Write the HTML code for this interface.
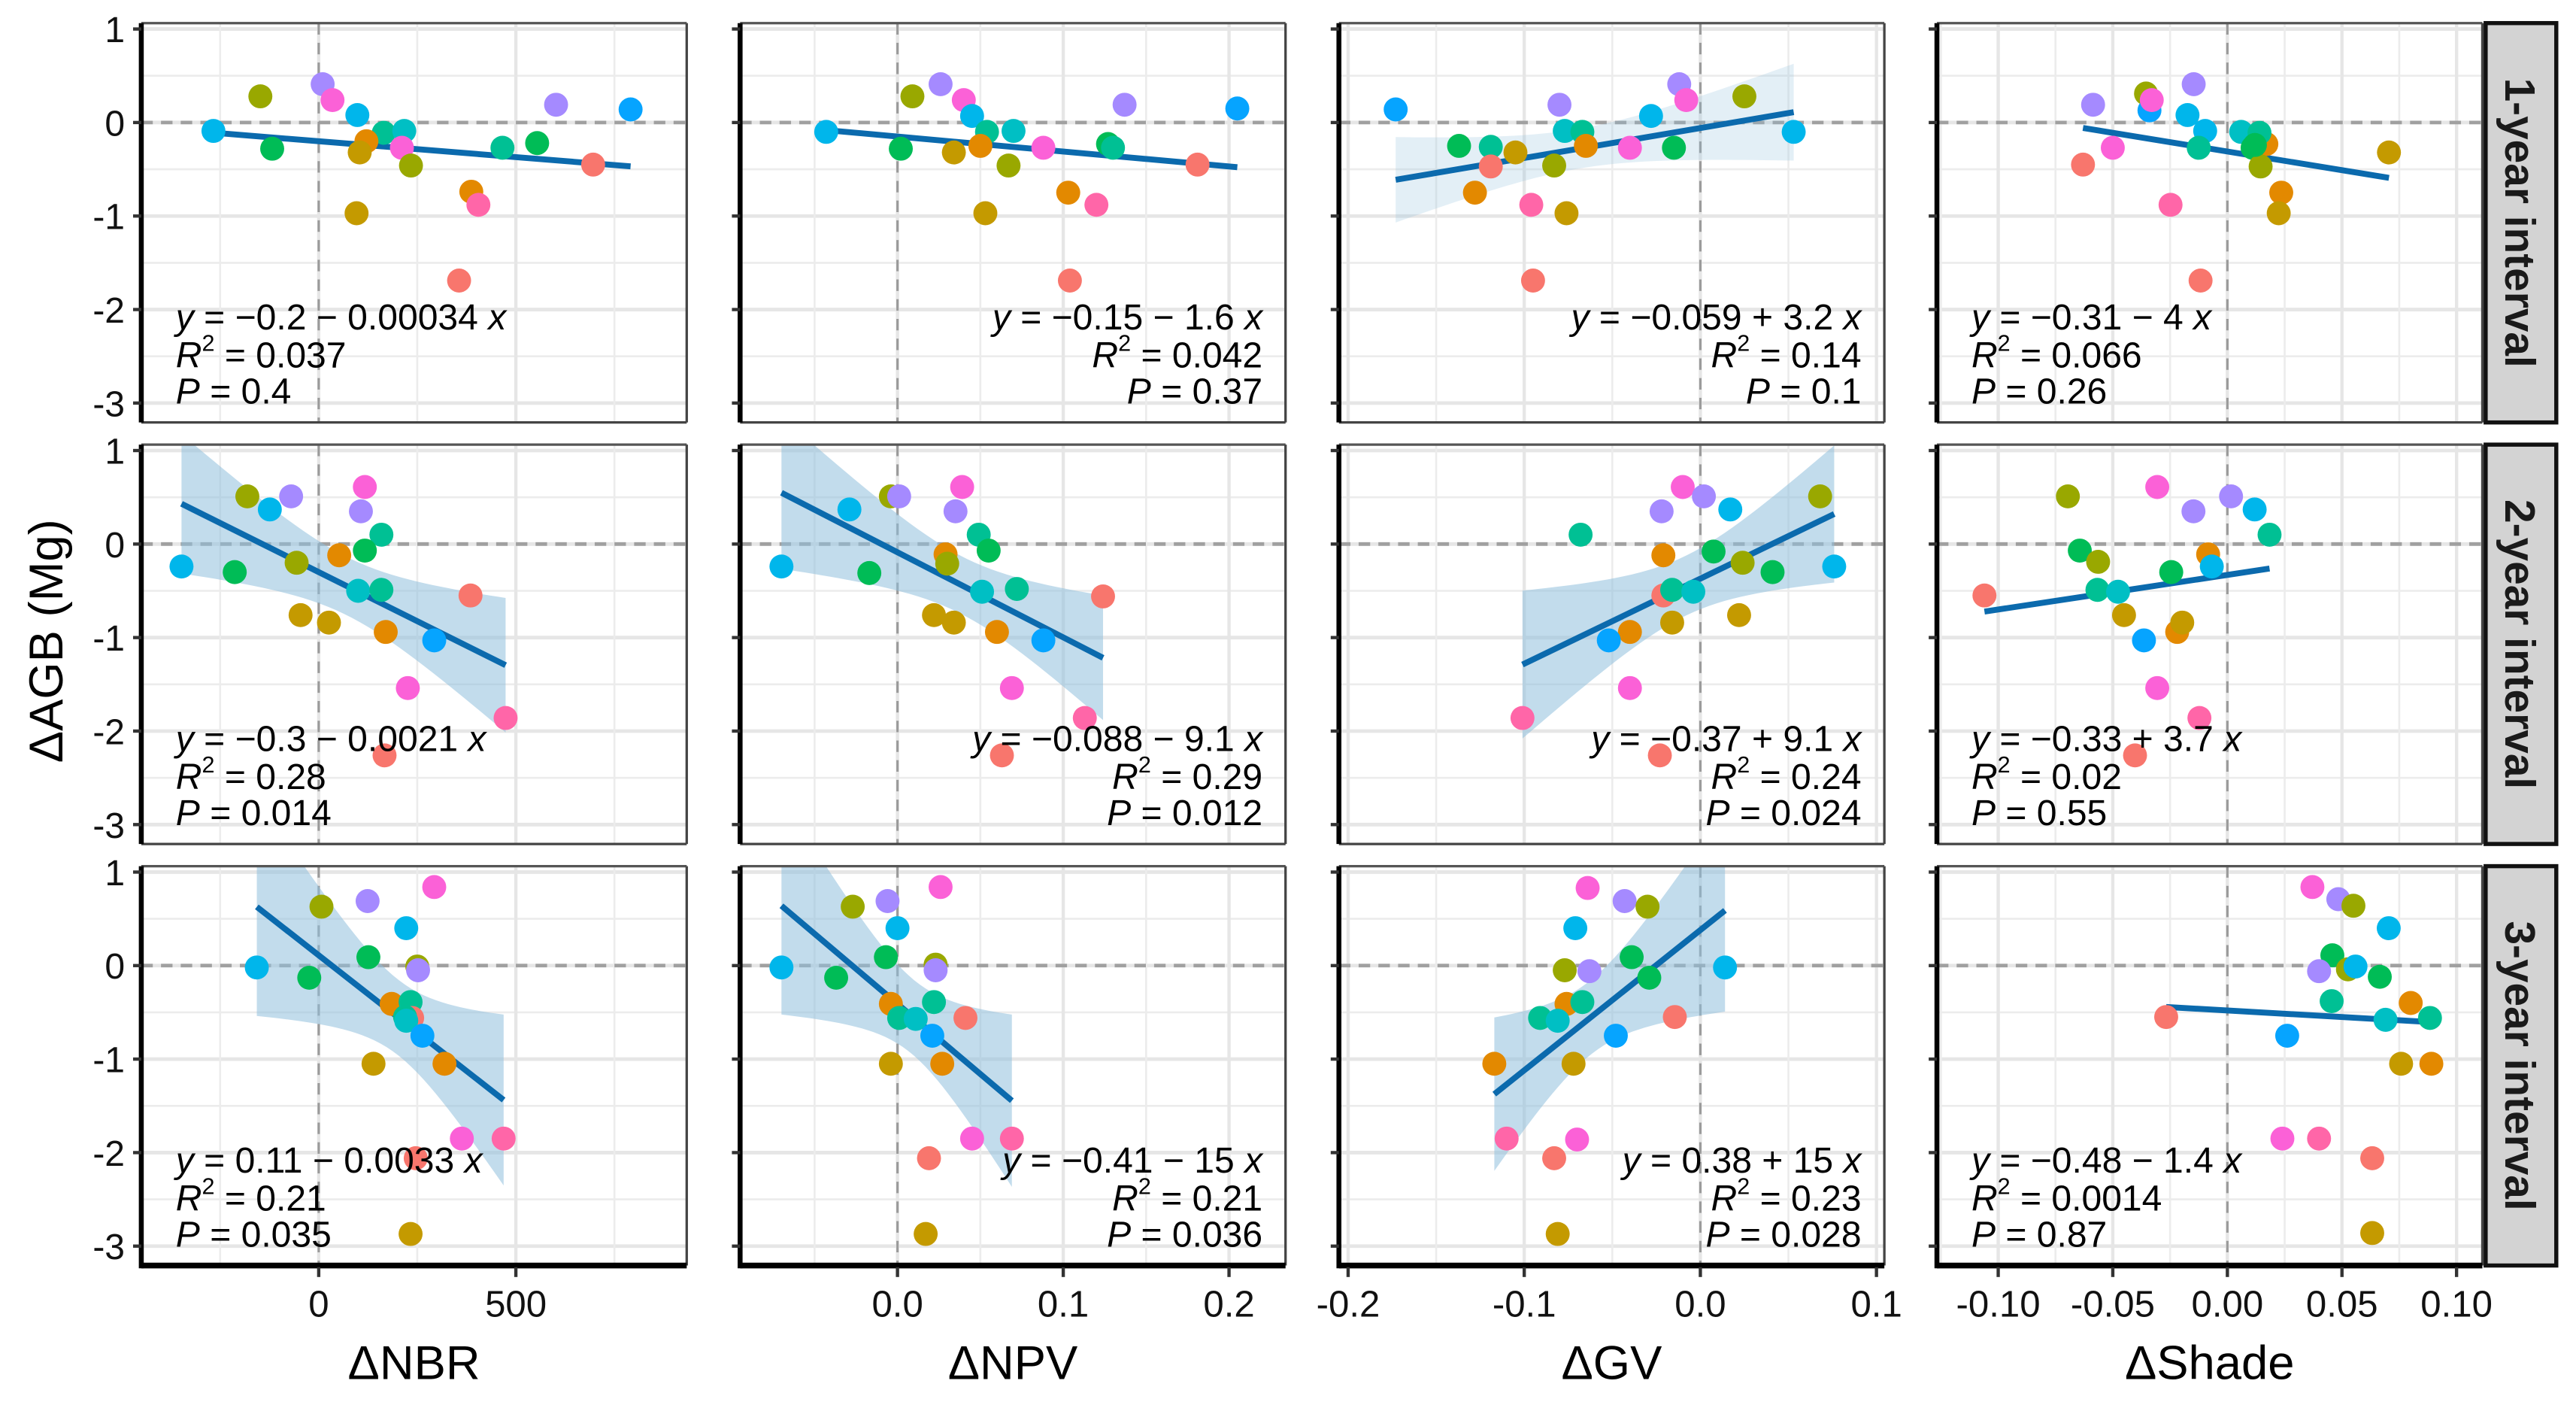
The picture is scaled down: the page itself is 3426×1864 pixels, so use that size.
<!DOCTYPE html>
<html><head><meta charset="utf-8"><style>
html,body{margin:0;padding:0;background:#fff;}
svg{display:block;font-family:"Liberation Sans",Arial,sans-serif;}
</style></head><body>
<svg id="chart" xmlns="http://www.w3.org/2000/svg" width="3426" height="1864" viewBox="0 0 1568 853">
<rect x="0" y="0" width="1568" height="853" fill="#fff"/>
</svg>
<script>
// ---- data (x in predictor units, y in ΔAGB Mg, c = colour group index) ----
const p1x=[-267,-148,-118,10,35,98,165,217,121,104,211,234,387,405,96,356,466,554,696,602,791];
const p1y=[-0.09,0.28,-0.28,0.41,0.24,0.08,-0.11,-0.09,-0.2,-0.32,-0.27,-0.46,-0.74,-0.88,-0.97,-1.69,-0.27,-0.22,-0.45,0.19,0.14];
const p1c=[8,3,5,10,12,8,6,7,1,2,12,3,1,13,2,0,6,5,0,10,9];
const p2x=[-0.043,0.009,0.026,0.040,0.045,0.054,0.070,0.002,0.034,0.050,0.088,0.067,0.127,0.130,0.137,0.205,0.181,0.103,0.120,0.053,0.104];
const p2y=[-0.10,0.28,0.41,0.24,0.07,-0.10,-0.09,-0.28,-0.32,-0.25,-0.27,-0.46,-0.23,-0.27,0.19,0.15,-0.45,-0.75,-0.88,-0.97,-1.69];
const p2c=[8,3,10,12,8,6,7,5,2,1,12,3,5,6,10,9,0,1,13,2,0];
const p3x=[-0.173,-0.080,-0.012,-0.008,0.025,-0.028,0.053,-0.077,-0.067,-0.065,-0.040,-0.015,-0.137,-0.119,-0.105,-0.119,-0.083,-0.128,-0.096,-0.076,-0.095];
const p3y=[0.14,0.19,0.41,0.24,0.28,0.07,-0.10,-0.09,-0.10,-0.25,-0.27,-0.27,-0.25,-0.26,-0.32,-0.47,-0.46,-0.75,-0.88,-0.97,-1.69];
const p3c=[9,10,10,12,3,8,8,7,6,1,12,5,5,6,2,0,3,1,13,2,0];
const p4x=[-0.0586,-0.0355,-0.034,-0.033,-0.0147,-0.0174,-0.0097,-0.0125,-0.050,-0.063,0.006,0.017,0.014,0.011,0.0145,0.0705,0.0235,0.0224,-0.0248,-0.0117,0.012];
const p4y=[0.19,0.31,0.13,0.24,0.41,0.08,-0.09,-0.27,-0.27,-0.45,-0.10,-0.23,-0.11,-0.27,-0.47,-0.32,-0.75,-0.97,-0.88,-1.69,-0.24];
const p4c=[10,3,9,12,10,8,8,6,12,0,7,1,6,5,3,2,1,2,13,0,5];
const p5x=[-348,-181,-124,-70,117,107,159,117,52,-56,-213,100,159,385,-46,26,170,293,226,474,167];
const p5y=[-0.24,0.51,0.37,0.51,0.61,0.35,0.10,-0.07,-0.12,-0.20,-0.30,-0.50,-0.49,-0.55,-0.76,-0.84,-0.94,-1.03,-1.54,-1.86,-2.26];
const p5c=[8,3,8,10,12,10,6,5,1,3,5,7,6,0,2,2,1,9,12,13,0];
const p6x=[-0.070,-0.029,-0.004,0.001,0.039,0.035,0.049,0.055,0.029,0.030,-0.017,0.051,0.072,0.124,0.022,0.034,0.060,0.088,0.069,0.113,0.063];
const p6y=[-0.24,0.37,0.51,0.51,0.61,0.35,0.10,-0.07,-0.11,-0.21,-0.31,-0.51,-0.48,-0.56,-0.76,-0.84,-0.94,-1.03,-1.54,-1.86,-2.26];
const p6c=[8,8,3,10,12,10,6,5,1,3,5,7,6,0,2,2,1,9,12,13,0];
const p7x=[-0.010,0.002,0.017,-0.022,0.068,-0.068,0.0075,-0.021,0.024,0.041,0.076,-0.021,-0.016,-0.004,-0.016,0.022,-0.040,-0.052,-0.040,-0.101,-0.023];
const p7y=[0.61,0.51,0.37,0.35,0.51,0.10,-0.08,-0.12,-0.20,-0.30,-0.24,-0.55,-0.49,-0.51,-0.84,-0.76,-0.94,-1.03,-1.54,-1.86,-2.26];
const p7c=[12,10,8,10,3,6,5,1,3,5,8,0,6,7,2,2,1,9,12,13,0];
const p8x=[-0.0696,-0.0306,0.0016,-0.0148,0.0119,0.0184,-0.0644,-0.0564,-0.0084,-0.0068,-0.0245,-0.106,-0.0567,-0.0477,-0.0451,-0.0219,-0.0197,-0.0364,-0.0306,-0.0122,-0.0403];
const p8y=[0.51,0.61,0.51,0.35,0.37,0.10,-0.07,-0.19,-0.11,-0.24,-0.30,-0.55,-0.49,-0.51,-0.76,-0.94,-0.84,-1.03,-1.54,-1.86,-2.26];
const p8c=[3,12,10,10,8,6,5,3,1,8,5,0,6,7,2,1,2,9,12,13,0];
const p9x=[-157,7,124,293,222,126,-24,250,252,185,233,237,219,222,263,139,319,363,469,246,233];
const p9y=[-0.02,0.63,0.69,0.84,0.40,0.09,-0.13,-0.01,-0.05,-0.41,-0.39,-0.56,-0.55,-0.59,-0.75,-1.05,-1.05,-1.85,-1.85,-2.06,-2.87];
const p9c=[8,3,10,12,8,5,5,3,10,1,6,0,6,7,9,2,1,12,13,0,2];
const p10x=[-0.070,-0.027,-0.006,0.026,0.000,-0.007,-0.037,0.023,0.023,-0.004,0.022,0.001,0.011,0.041,0.021,-0.004,0.027,0.045,0.069,0.019,0.017];
const p10y=[-0.02,0.63,0.69,0.84,0.40,0.09,-0.13,0.01,-0.05,-0.41,-0.39,-0.56,-0.57,-0.56,-0.75,-1.05,-1.05,-1.85,-1.85,-2.06,-2.87];
const p10c=[8,3,10,12,8,5,5,3,10,1,6,6,7,0,9,2,1,12,13,0,2];
const p11x=[-0.064,-0.043,-0.030,-0.071,-0.039,-0.029,-0.077,-0.063,0.014,-0.076,-0.067,-0.091,-0.081,-0.0145,-0.048,-0.117,-0.072,-0.110,-0.070,-0.083,-0.081];
const p11y=[0.83,0.69,0.63,0.40,0.09,-0.13,-0.05,-0.06,-0.02,-0.41,-0.39,-0.56,-0.59,-0.55,-0.75,-1.05,-1.05,-1.85,-1.86,-2.06,-2.87];
const p11c=[12,10,3,8,5,5,3,10,8,1,6,6,7,0,9,1,2,13,12,0,2];
const p12x=[0.0371,0.0484,0.055,0.0704,0.0458,0.0526,0.0559,0.040,0.0665,0.0455,0.080,0.069,0.0884,-0.0267,0.0261,0.0758,0.089,0.024,0.040,0.0632,0.0632];
const p12y=[0.84,0.71,0.64,0.40,0.11,-0.04,-0.01,-0.06,-0.12,-0.38,-0.40,-0.58,-0.56,-0.55,-0.75,-1.05,-1.05,-1.85,-1.85,-2.06,-2.86];
const p12c=[12,10,3,8,5,3,8,10,5,6,1,7,6,0,9,2,1,12,13,0,2];

const intercepts=[-0.2,-0.15,-0.059,-0.31,-0.3,-0.088,-0.37,-0.33,0.11,-0.41,0.38,-0.48];
const slopes=[-0.00034,-1.6,3.2,-4,-0.0021,-9.1,9.1,3.7,-0.0033,-15,15,-1.4];
const eqLabels=["= −0.2 − 0.00034","= −0.15 − 1.6","= −0.059 + 3.2","= −0.31 − 4","= −0.3 − 0.0021","= −0.088 − 9.1","= −0.37 + 9.1","= −0.33 + 3.7","= 0.11 − 0.0033","= −0.41 − 15","= 0.38 + 15","= −0.48 − 1.4"];
const r2Labels=["0.037","0.042","0.14","0.066","0.28","0.29","0.24","0.02","0.21","0.21","0.23","0.0014"];
const pLabels=["0.4","0.37","0.1","0.26","0.014","0.012","0.024","0.55","0.035","0.036","0.028","0.87"];
const bandShown=[0,0,1,0,2,2,2,0,2,2,2,0];
const rowLabels=["1-year interval","2-year interval","3-year interval"];
const xTitles=["ΔNBR","ΔNPV","ΔGV","ΔShade"];
const xTickVals=[[0,500],[0,0.1,0.2],[-0.2,-0.1,0,0.1],[-0.1,-0.05,0,0.05,0.1]];
const xTickLabels=[["0","500"],["0.0","0.1","0.2"],["-0.2","-0.1","0.0","0.1"],["-0.10","-0.05","0.00","0.05","0.10"]];
const xMinorVals=[[-250,250,750],[-0.05,0.05,0.15],[-0.15,-0.05,0.05],[-0.125,-0.075,-0.025,0.025,0.075]];
const yTickVals=[1,0,-1,-2,-3];
const yTickLabels=["1","0","-1","-2","-3"];
const yMinorVals=[0.5,-0.5,-1.5,-2.5];

const PX=[p1x,p2x,p3x,p4x,p5x,p6x,p7x,p8x,p9x,p10x,p11x,p12x];
const PY=[p1y,p2y,p3y,p4y,p5y,p6y,p7y,p8y,p9y,p10y,p11y,p12y];
const PC=[p1c,p2c,p3c,p4c,p5c,p6c,p7c,p8c,p9c,p10c,p11c,p12c];
const COLORS=["#F8766D","#E38900","#C49A00","#99A800","#53B400","#00BC56","#00C094","#00BFC4","#00B6EB","#06A4FF","#A58AFF","#DF70F8","#FB61D7","#FF66A8"];

// ---- layout ----
const colLeft=[86,450.5,815,1179], W=332;
const rowY0=[74.5,331,587.5], UNIT=56.9;
const xZero=[194,546.3,1035,1355.8], xPer=[0.24,1009,1072,1395];
const NS="http://www.w3.org/2000/svg";
const svg=document.getElementById('chart');
function mk(tag,attrs,parent){const e=document.createElementNS(NS,tag);for(const k in attrs)e.setAttribute(k,attrs[k]);(parent||svg).appendChild(e);return e;}
function yS(r,v){return rowY0[r]-v*UNIT;}
function xS(c,v){return xZero[c]+v*xPer[c];}

const defs=mk('defs',{});
for(let r=0;r<3;r++){
  const top=rowY0[r]-60.5, bot=rowY0[r]+182.5;
  for(let c=0;c<4;c++){
    const i=r*4+c, L=colLeft[c], R=L+W;
    const cp=mk('clipPath',{id:'cp'+i},defs);
    mk('rect',{x:L,y:top,width:W,height:bot-top},cp);
    const g=mk('g',{});
    
    
    const gc=mk('g',{'clip-path':'url(#cp'+i+')'},g);
    yMinorVals.forEach(v=>{const l=mk('line',{x1:L,x2:R,y1:yS(r,v),y2:yS(r,v),stroke:'#ececec','stroke-width':1.2},gc);});
    yTickVals.forEach(v=>{const l=mk('line',{x1:L,x2:R,y1:yS(r,v),y2:yS(r,v),stroke:'#e6e6e6','stroke-width':2.2},gc);});
    xMinorVals[c].forEach(v=>{const l=mk('line',{x1:xS(c,v),x2:xS(c,v),y1:top,y2:bot,stroke:'#ececec','stroke-width':1.2},gc);});
    xTickVals[c].forEach(v=>{const l=mk('line',{x1:xS(c,v),x2:xS(c,v),y1:top,y2:bot,stroke:'#e6e6e6','stroke-width':2},gc);});
    const h0=mk('line',{x1:L,x2:R,y1:yS(r,0),y2:yS(r,0),stroke:'#a0a0a0','stroke-width':2.2,'stroke-dasharray':'7 5'},gc);
    
    const v0=mk('line',{x1:xS(c,0),x2:xS(c,0),y1:top,y2:bot,stroke:'#9a9a9a','stroke-width':1.4,'stroke-dasharray':'7 5'},gc);
    
    const xs=PX[i], ys=PY[i], n=xs.length, a=intercepts[i], b=slopes[i];
    let xmin=Math.min(...xs), xmax=Math.max(...xs);
    if(bandShown[i]){
      let xbar=xs.reduce((s,v)=>s+v,0)/n, sxx=0, sse=0;
      for(let k=0;k<n;k++){sxx+=(xs[k]-xbar)**2; sse+=(ys[k]-(a+b*xs[k]))**2;}
      const s=Math.sqrt(sse/(n-2)), t=2.093, up=[], lo=[];
      for(let k=0;k<=40;k++){const xv=xmin+(xmax-xmin)*k/40, pr=a+b*xv, se=s*Math.sqrt(1/n+(xv-xbar)**2/sxx);
        up.push(xS(c,xv).toFixed(2)+','+yS(r,pr+t*se).toFixed(2)); lo.unshift(xS(c,xv).toFixed(2)+','+yS(r,pr-t*se).toFixed(2));}
      const band=mk('polygon',{points:up.concat(lo).join(' '),fill:'#8fc0dd','fill-opacity':bandShown[i]==1?0.25:0.55},gc);
      
    }
    const ln=mk('line',{x1:xS(c,xmin),y1:yS(r,a+b*xmin),x2:xS(c,xmax),y2:yS(r,a+b*xmax),stroke:'#0b6aad','stroke-width':3.6},gc);
    
    for(let k=0;k<n;k++){
      const pt=mk('circle',{cx:xS(c,xs[k]),cy:yS(r,ys[k]),r:7.3,fill:COLORS[PC[i][k]]},gc);
      
      
    }
    const start=(c==0||c==3), ax=start?L+21:R-14, an=start?'start':'end';
    const at=mk('text',{x:ax,y:rowY0[r]+126,'font-size':22,'text-anchor':an,fill:'#000'},g);
    
    at.innerHTML='<tspan font-style="italic">y</tspan> '+eqLabels[i]+' <tspan font-style="italic">x</tspan>';
    const rt=mk('text',{x:ax,y:rowY0[r]+149,'font-size':22,'text-anchor':an,fill:'#000'},g);
    
    rt.innerHTML='<tspan font-style="italic">R</tspan><tspan font-size="14" dy="-10">2</tspan><tspan dy="10"> = '+r2Labels[i]+'</tspan>';
    const pt2=mk('text',{x:ax,y:rowY0[r]+171,'font-size':22,'text-anchor':an,fill:'#000'},g);
    
    pt2.innerHTML='<tspan font-style="italic">P</tspan> = '+pLabels[i];
    mk('line',{x1:L,x2:R,y1:top,y2:top,stroke:'#555','stroke-width':1.5},g);
    mk('line',{x1:R,x2:R,y1:top,y2:bot,stroke:'#444','stroke-width':1.5},g);
    mk('line',{x1:L,x2:R,y1:bot,y2:bot,stroke:r==2?'#000':'#444','stroke-width':r==2?3.5:1.5},g);
    mk('line',{x1:L,x2:L,y1:top,y2:bot+(r==2?1.7:0),stroke:'#000','stroke-width':3},g);
    yTickVals.forEach(v=>mk('line',{x1:L-5,x2:L,y1:yS(r,v),y2:yS(r,v),stroke:'#333','stroke-width':2},g));
    if(c==0){yTickVals.forEach((v,j)=>{const tl=mk('text',{x:L-10,y:yS(r,v)+8,'font-size':22,'text-anchor':'end',fill:'#111'},g);tl.textContent=yTickLabels[j];});}
    if(r==2){
      xTickVals[c].forEach((v,j)=>{
        mk('line',{x1:xS(c,v),x2:xS(c,v),y1:bot+1,y2:bot+7,stroke:'#333','stroke-width':2},g);
        const tl=mk('text',{x:xS(c,v),y:801,'font-size':22.5,'text-anchor':'middle',fill:'#111'},g);
        tl.textContent=xTickLabels[c][j];
        
        
      });
      const xt=mk('text',{x:L+W/2,y:839,'font-size':29,'text-anchor':'middle',fill:'#000'},svg);
      xt.textContent=xTitles[c];
      
      
    }
  }
  const sg=mk('g',{});
  
  
  mk('rect',{x:1513,y:top,width:43,height:bot-top,fill:'#d3d3d3',stroke:'#111','stroke-width':2.5},sg);
  const st=mk('text',{x:0,y:0,'font-size':26,'font-weight':'bold','text-anchor':'middle',fill:'#1a1a1a',transform:'translate(1525,'+((top+bot)/2)+') rotate(90)'},sg);
  st.textContent=rowLabels[r];
}
const yt=mk('text',{x:0,y:0,'font-size':29,'text-anchor':'middle',fill:'#000',transform:'translate(38,390) rotate(-90)'});
yt.textContent='ΔAGB (Mg)';


</script>
</body></html>
